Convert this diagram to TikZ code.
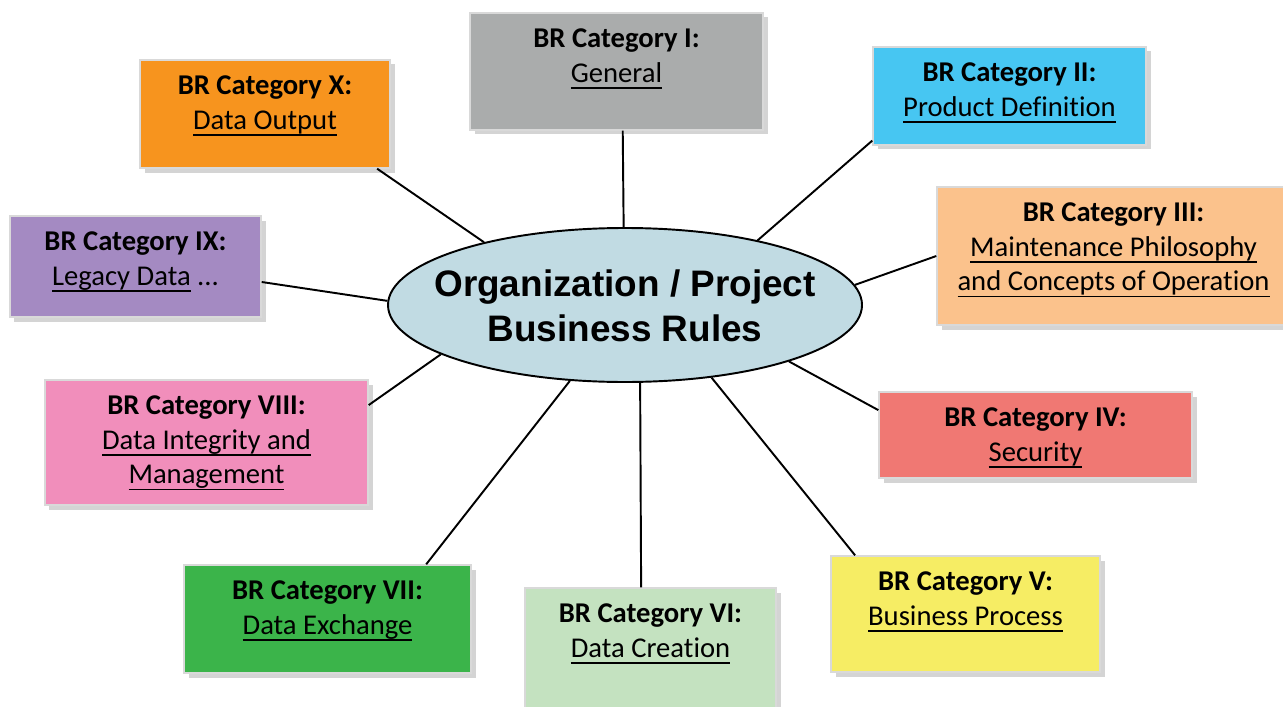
\documentclass[tikz,border=0pt]{standalone}
\usepackage{fontspec}
\setmainfont{Carlito}[Ligatures=NoCommon]
\newfontfamily\arialfont{Liberation Sans}
\usetikzlibrary{shapes.geometric,shadows}

% underline at a fixed depth, through the descenders
\newcommand\undl[1]{\leavevmode\setbox0\hbox{#1}\rlap{\rule[-3.8pt]{\wd0}{0.9pt}}\box0\relax}

\definecolor{ClrI}{HTML}{AAACAC}
\definecolor{ClrII}{HTML}{47C6F2}
\definecolor{ClrIII}{HTML}{FBC28C}
\definecolor{ClrIV}{HTML}{F07873}
\definecolor{ClrV}{HTML}{F6ED64}
\definecolor{ClrVI}{HTML}{C4E2C0}
\definecolor{ClrVII}{HTML}{3BB44A}
\definecolor{ClrVIII}{HTML}{F18EBB}
\definecolor{ClrIX}{HTML}{A48AC2}
\definecolor{ClrX}{HTML}{F7941E}
\definecolor{EllClr}{HTML}{C1DBE3}

\tikzset{
  catbox/.style={draw=gray!30,line width=0.8pt,inner sep=0pt,
    drop shadow={shadow xshift=0.09cm,shadow yshift=-0.09cm,opacity=0.3,fill=black!55}},
  cattext/.style={anchor=north,align=center,inner sep=0pt,
    font=\fontsize{16.3}{19.6}\selectfont},
  spoke/.style={line width=1.1pt,color=black}
}

\begin{document}
\begin{tikzpicture}[x=0.02cm,y=-0.02cm]
\useasboundingbox[fill=white] (0,0) rectangle (1283,706);

% centre
\node[ellipse,draw,line width=1.1pt,fill=EllClr,inner sep=0pt,
  minimum width=474*0.02cm,minimum height=154*0.02cm] (BR) at (625,305) {};
\node[align=center,inner sep=0pt,
  font=\arialfont\bfseries\fontsize{21}{25.6}\selectfont] (BRt) at ([yshift=-0.02cm]BR.center)
  {Organization / Project\\Business Rules};

% categories
\node[catbox,fill=ClrI,minimum width=293*0.02cm,minimum height=117*0.02cm] (cI) at (616.5,71.5) {};
\node[cattext] (tI) at ([yshift=-0.33cm]cI.north) {\textbf{BR Category I:}\\\undl{General}};

\node[catbox,fill=ClrII,minimum width=273*0.02cm,minimum height=98*0.02cm] (cII) at (1009.5,96) {};
\node[cattext] (tII) at ([yshift=-0.33cm]cII.north) {\textbf{BR Category II:}\\\undl{Product Definition}};

\node[catbox,fill=ClrIII,minimum width=353*0.02cm,minimum height=138*0.02cm] (cIII) at (1113.5,256) {};
\node[cattext] (tIII) at ([yshift=-0.33cm]cIII.north) {\textbf{BR Category III:}\\\undl{Maintenance Philosophy}\\\undl{and Concepts of Operation}};

\node[catbox,fill=ClrIV,minimum width=313*0.02cm,minimum height=86*0.02cm] (cIV) at (1035.5,435) {};
\node[cattext] (tIV) at ([yshift=-0.33cm]cIV.north) {\textbf{BR Category IV:}\\\undl{Security}};

\node[catbox,fill=ClrV,minimum width=269*0.02cm,minimum height=116*0.02cm] (cV) at (965.5,614) {};
\node[cattext] (tV) at ([yshift=-0.33cm]cV.north) {\textbf{BR Category V:}\\\undl{Business Process}};

\node[catbox,fill=ClrVI,minimum width=251*0.02cm,minimum height=132*0.02cm] (cVI) at (650.5,654) {};
\node[cattext] (tVI) at ([yshift=-0.33cm]cVI.north) {\textbf{BR Category VI:}\\\undl{Data Creation}};

\node[catbox,fill=ClrVII,minimum width=287*0.02cm,minimum height=108*0.02cm] (cVII) at (327.5,619) {};
\node[cattext] (tVII) at ([yshift=-0.33cm]cVII.north) {\textbf{BR Category VII:}\\\undl{Data Exchange}};

\node[catbox,fill=ClrVIII,minimum width=323*0.02cm,minimum height=125*0.02cm] (cVIII) at (206.5,442.5) {};
\node[cattext] (tVIII) at ([yshift=-0.33cm]cVIII.north) {\textbf{BR Category VIII:}\\\undl{Data Integrity and}\\\undl{Management}};

\node[catbox,fill=ClrIX,minimum width=251*0.02cm,minimum height=101*0.02cm] (cIX) at (135.5,266.5) {};
\node[cattext] (tIX) at ([yshift=-0.33cm]cIX.north) {\textbf{BR Category IX:}\\\undl{Legacy Data} ...};

\node[catbox,fill=ClrX,minimum width=250*0.02cm,minimum height=108*0.02cm] (cX) at (265,114) {};
\node[cattext] (tX) at ([yshift=-0.33cm]cX.north) {\textbf{BR Category X:}\\\undl{Data Output}};

% spokes
\draw[spoke] (BR.91.5) -- (cI.-84);
\draw[spoke] (BR.26.2) -- (cII.-162);
\draw[spoke] (BR.5.4) -- (cIII.180);
\draw[spoke] (BR.-19.2) -- (cIV.171);
\draw[spoke] (BR.-40.7) -- (cV.152.3);
\draw[spoke] (BR.-79) -- (cVI.98.2);
\draw[spoke] (BR.-126.7) -- (cVII.29.2);
\draw[spoke] (BR.-165.7) -- (cVIII.13.7);
\draw[spoke] (BR.179.3) -- (cIX.-7.9);
\draw[spoke] (BR.156.3) -- (cX.-26.8);

\end{tikzpicture}
\end{document}
